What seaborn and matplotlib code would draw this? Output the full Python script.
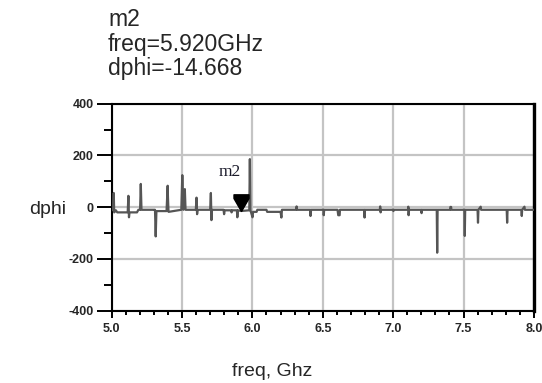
import matplotlib
matplotlib.use("Agg")
import matplotlib.pyplot as plt
from matplotlib.ticker import MultipleLocator, FixedLocator
import seaborn as sns
import pandas as pd

# Sweep samples of the phase-difference trace (GHz, degrees)
freq = [
    5.000, 5.010, 5.015, 5.018, 5.030, 5.040, 5.114, 5.119, 5.123, 5.127,
    5.180, 5.190, 5.202, 5.207, 5.212, 5.300, 5.308, 5.313, 5.318, 5.390,
    5.398, 5.400, 5.404, 5.495, 5.502, 5.510, 5.520, 5.525, 5.598, 5.603,
    5.607, 5.611, 5.700, 5.705, 5.709, 5.713, 5.795, 5.799, 5.803, 5.850,
    5.852, 5.855, 5.890, 5.893, 5.897, 5.920, 5.978, 5.982, 5.986, 6.001,
    6.005, 6.030, 6.035, 6.100, 6.105, 6.200, 6.206, 6.210, 6.310, 6.314,
    6.318, 6.410, 6.413, 6.417, 6.505, 6.507, 6.510, 6.605, 6.610, 6.620,
    6.622, 6.795, 6.797, 6.800, 6.905, 6.908, 6.911, 6.914, 7.000, 7.002,
    7.005, 7.105, 7.108, 7.110, 7.113, 7.200, 7.202, 7.205, 7.310, 7.313,
    7.316, 7.404, 7.407, 7.412, 7.414, 7.506, 7.509, 7.512, 7.600, 7.603,
    7.606, 7.622, 7.625, 7.807, 7.810, 7.813, 7.911, 7.914, 7.917, 7.933,
    7.936, 8.000,
]
dphi = [
    -10, -12, 55, -20, -12, -20, -20, 44, -39, -20,
    -20, -10, -10, 90, -10, -10, -10, -113, -15, -15,
    83, 40, -18, -10, 124, -10, 70, -10, -10, 37,
    -27, -10, -10, 55, -50, -10, -10, -27, -12, -12,
    -20, -12, -12, -39, -12, -14.668, -12, 186, -12, -39,
    -18, -18, -10, -10, -18, -18, -40, -10, -10, 3,
    -10, -10, -34, -10, -10, -31, -10, -10, -31, -31,
    -10, -10, -40, -10, -10, 3, -20, -10, -10, -15,
    -10, -10, 2, -31, -10, -10, -23, -10, -10, -176,
    -10, -10, 1, 1, -10, -10, -111, -10, -10, -60,
    -10, 2, -10, -10, -60, -10, -10, -34, -10, 2,
    -10, -10,
]

marker_name = "m2"
marker_freq = 5.920
marker_dphi = -14.668

x_ticks = [5.0, 5.5, 6.0, 6.5, 7.0, 7.5, 8.0]
x_tick_labels = ["5.0", "5.5", "6.0", "6.5", "7.0", "7.5", "8.0"]
y_ticks = [-400, -200, 0, 200, 400]
y_tick_labels = ["-400", "-200", "0", "200", "400"]

df = pd.DataFrame({"freq": freq, "dphi": dphi})

sns.set_style("white")
plt.rcParams["font.family"] = ["Liberation Sans", "DejaVu Sans"]

fig = plt.figure(figsize=(5.42, 3.83), dpi=100)
ax = fig.add_axes([0.206, 0.189, 0.779, 0.540])

ax.grid(True, which="major", color="#c4c4c4", linewidth=1.6)
ax.set_axisbelow(True)

sns.lineplot(data=df, x="freq", y="dphi", ax=ax, sort=False, estimator=None,
             color="#555555", linewidth=1.6, zorder=3)

# Marker: downward triangle whose tip sits on the data point
tri = [(0, 0), (-0.45, 0.78), (-0.45, 1.0), (0.45, 1.0), (0.45, 0.78), (0, 0)]
ax.plot([marker_freq], [marker_dphi], linestyle="none", marker=tri,
        markersize=24, color="black", zorder=5)
ax.annotate(marker_name, (marker_freq, marker_dphi), xytext=(-8, 28),
            textcoords="offset points", ha="center", va="center",
            fontsize=12.5, family=["Liberation Serif", "DejaVu Serif"],
            color="#1a1a2a", zorder=6)

ax.set_xlim(5.0, 8.0)
ax.set_ylim(-400, 400)
ax.xaxis.set_major_locator(FixedLocator(x_ticks))
ax.yaxis.set_major_locator(FixedLocator(y_ticks))
ax.xaxis.set_minor_locator(MultipleLocator(0.1))
ax.yaxis.set_minor_locator(MultipleLocator(100))
ax.set_xticklabels(x_tick_labels)
ax.set_yticklabels(y_tick_labels)
for lab in ax.get_xticklabels() + ax.get_yticklabels():
    lab.set_family(["Liberation Sans", "DejaVu Sans"])
    lab.set_fontweight("bold")
    lab.set_fontsize(9)

ax.tick_params(axis="y", which="major", direction="out", length=10.8,
               width=1.4, pad=2, left=True, color="black")
ax.tick_params(axis="y", which="minor", direction="out", length=5.8,
               width=1.4, left=True, color="black")
ax.tick_params(axis="x", which="major", direction="out", length=5,
               width=1.4, pad=4, bottom=True, color="black")
ax.tick_params(axis="x", which="minor", direction="out", length=3,
               width=1.4, bottom=True, color="black")

for side in ["left", "bottom", "top"]:
    ax.spines[side].set_color("black")
    ax.spines[side].set_linewidth(1.5)
    ax.spines[side].set_visible(True)
ax.spines["right"].set_color("black")
ax.spines["right"].set_linewidth(2.4)
ax.spines["right"].set_visible(True)

ax.set_xlabel("")
ax.set_ylabel("")
fig.text(48 / 542, 1 - 210 / 383, "dphi", ha="center", va="center", fontsize=14)
fig.text(272 / 542, 1 - 372 / 383, "freq, Ghz", ha="center", va="center",
         fontsize=14)

# Marker readout block
readout = [marker_name, f"freq={marker_freq:.3f}GHz", f"dphi={marker_dphi:.3f}"]
for i, line in enumerate(readout):
    fig.text(108 / 542, 1 - (19 + 25 * i) / 383, line, ha="left",
             va="center", fontsize=16.5)

fig.savefig("out.png", dpi=100)
